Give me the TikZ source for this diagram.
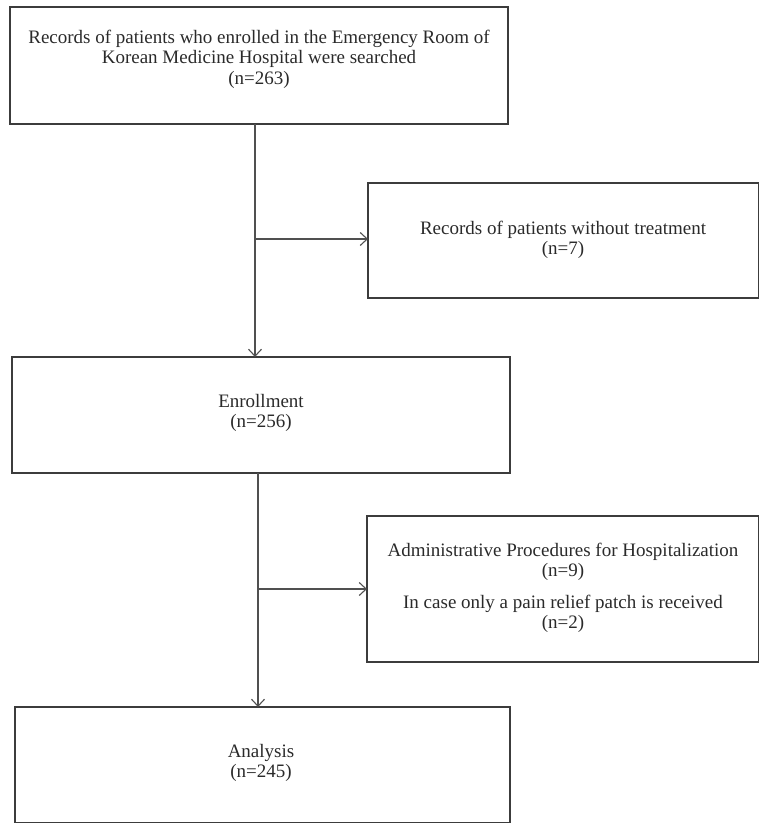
\documentclass[tikz,border=0pt]{standalone}
\usepackage{fontspec}
\setmainfont{Liberation Serif}
\usetikzlibrary{arrows.meta}
\definecolor{boxline}{HTML}{3C3C3C}
\definecolor{conn}{HTML}{505050}
\definecolor{txt}{HTML}{2A2A2A}
\begin{document}
\begin{tikzpicture}[x=1pt,y=-1pt,
  boxframe/.style={draw=boxline,line width=1.3pt},
  boxtext/.style={text=txt,align=center,inner sep=0pt,font=\fontsize{19}{20.5}\selectfont},
  conline/.style={draw=conn,line width=1.1pt,-{Straight Barb[length=7pt,width=13pt,line width=1.1pt]}}]
\useasboundingbox (0,0) rectangle (759,824);
% box 1
\draw[boxframe] (10,7) rectangle (508,124);
\node[boxtext] (b1) at (259,59)
  {Records of patients who enrolled in the Emergency Room of\\Korean Medicine Hospital were searched\\(n=263)};
\coordinate (b1s) at (255,124);
% box 2
\draw[boxframe] (368,183) rectangle (758.5,298);
\node[boxtext] (b2) at (563,240)
  {Records of patients without treatment\\(n=7)};
\coordinate (b2w) at (368,239);
% box 3
\draw[boxframe] (12,357) rectangle (510,473);
\node[boxtext] (b3) at (261,413)
  {Enrollment\\(n=256)};
\coordinate (b3n) at (255,357);
\coordinate (b3s) at (258,473);
% box 4
\draw[boxframe] (367,516) rectangle (758.5,662);
\node[boxtext] (b4) at (563,588)
  {Administrative Procedures for Hospitalization\\(n=9)\\[11pt]In case only a pain relief patch is received\\(n=2)};
\coordinate (b4w) at (367,589);
% box 5
\draw[boxframe] (15,707) rectangle (510,822.5);
\node[boxtext] (b5) at (261,763)
  {Analysis\\(n=245)};
\coordinate (b5n) at (258,707);
% connectors
\coordinate (j1) at (255,239);
\coordinate (j2) at (258,589);
\draw[conline] (b1s) -- (b3n);
\draw[conline] (j1) -- (b2w);
\draw[conline] (b3s) -- (b5n);
\draw[conline] (j2) -- (b4w);
\end{tikzpicture}
\end{document}
